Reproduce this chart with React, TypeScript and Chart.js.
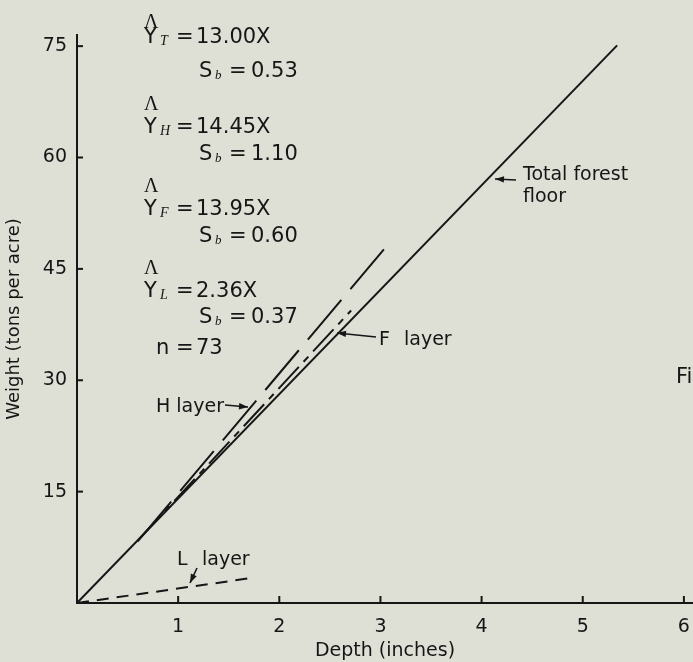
import React, { useEffect, useRef } from 'react';
import { Chart, registerables } from 'chart.js';

Chart.register(...registerables);

const BG = '#dedfd5';
const INK = '#161616';
const SANS = '"DejaVu Sans", sans-serif';
const SERIF = '"Liberation Serif", "DejaVu Serif", serif';

// Regression lines (depth in inches, weight in tons per acre)
const totalDepth = [0, 5.34];
const totalWeight = [0, 75.1];
const hDepth = [0.6, 3.1];
const hWeight = [8.3, 48.7];
const fDepth = [0.62, 2.71];
const fWeight = [8.7, 39.4];
const lDepth = [0, 1.69];
const lWeight = [0, 3.3];

// Axis ticks
const depthTicks = [1, 2, 3, 4, 5, 6];
const weightTicks = [15, 30, 45, 60, 75];

// Equations block
const eqSubs = ['T', 'H', 'F', 'L'];
const eqCoefs = ['13.00X', '14.45X', '13.95X', '2.36X'];
const eqSb = ['0.53', '1.10', '0.60', '0.37'];
const sampleN = '73';

const pts = (xs: number[], ys: number[]) => xs.map((x, i) => ({ x, y: ys[i] }));

function arrow(ctx: CanvasRenderingContext2D, x0: number, y0: number, x1: number, y1: number) {
  ctx.save();
  ctx.strokeStyle = INK;
  ctx.fillStyle = INK;
  ctx.lineWidth = 1.6;
  ctx.beginPath();
  ctx.moveTo(x0, y0);
  ctx.lineTo(x1, y1);
  ctx.stroke();
  const a = Math.atan2(y1 - y0, x1 - x0);
  const L = 9, W = 3.2;
  ctx.beginPath();
  ctx.moveTo(x1, y1);
  ctx.lineTo(x1 - L * Math.cos(a) + W * Math.sin(a), y1 - L * Math.sin(a) - W * Math.cos(a));
  ctx.lineTo(x1 - L * Math.cos(a) - W * Math.sin(a), y1 - L * Math.sin(a) + W * Math.cos(a));
  ctx.closePath();
  ctx.fill();
  ctx.restore();
}

const paperPlugin = {
  id: 'paper',
  beforeDraw(chart: any) {
    const ctx = chart.ctx;
    ctx.save();
    ctx.fillStyle = BG;
    ctx.fillRect(0, 0, chart.width, chart.height);
    ctx.restore();
  },
  afterDraw(chart: any) {
    const ctx: CanvasRenderingContext2D = chart.ctx;
    const xs = chart.scales.x;
    const ys = chart.scales.y;
    const area = chart.chartArea;
    ctx.save();
    // inside tick marks
    ctx.strokeStyle = INK;
    ctx.lineWidth = 2;
    depthTicks.forEach((v) => {
      const px = xs.getPixelForValue(v);
      ctx.beginPath();
      ctx.moveTo(px, area.bottom);
      ctx.lineTo(px, area.bottom - 7);
      ctx.stroke();
    });
    weightTicks.forEach((v) => {
      const py = ys.getPixelForValue(v);
      ctx.beginPath();
      ctx.moveTo(area.left, py);
      ctx.lineTo(area.left + 6, py);
      ctx.stroke();
    });

    // equations
    ctx.fillStyle = INK;
    ctx.textBaseline = 'alphabetic';
    ctx.textAlign = 'left';
    const lamY = [28, 110, 192, 274];
    const yY = [43, 133, 215, 297];
    const sY = [77, 160, 242, 323];
    eqSubs.forEach((sub, i) => {
      ctx.font = `20px ${SERIF}`;
      ctx.fillText('Λ', 144, lamY[i]);
      ctx.font = `21px ${SANS}`;
      ctx.fillText('Y', 144, yY[i]);
      ctx.font = `italic 14px ${SERIF}`;
      ctx.fillText(sub, 160, yY[i] + 2);
      ctx.font = `21px ${SANS}`;
      ctx.fillText('=', 176, yY[i]);
      ctx.fillText(eqCoefs[i], 196, yY[i]);
      ctx.fillText('S', 199, sY[i]);
      ctx.font = `italic 13px ${SERIF}`;
      ctx.fillText('b', 215, sY[i] + 2);
      ctx.font = `21px ${SANS}`;
      ctx.fillText('=', 229, sY[i]);
      ctx.fillText(eqSb[i], 251, sY[i]);
    });
    ctx.font = `21px ${SANS}`;
    ctx.fillText('n', 156, 354);
    ctx.fillText('=', 176, 354);
    ctx.fillText(sampleN, 196, 354);

    // line labels
    ctx.font = `19px ${SANS}`;
    ctx.fillText('Total forest', 523, 180);
    ctx.fillText('floor', 523, 202);
    arrow(ctx, 516, 180, 495, 179);
    ctx.fillText('F', 379, 345);
    ctx.fillText('layer', 404, 345);
    arrow(ctx, 376, 337, 337, 333);
    ctx.fillText('H layer', 156, 412);
    arrow(ctx, 225, 405, 248, 407);
    ctx.fillText('L', 177, 565);
    ctx.fillText('layer', 202, 565);
    arrow(ctx, 197, 568, 190, 583);

    // cropped caption
    ctx.font = `21px ${SANS}`;
    ctx.fillText('Fi', 676, 383);
    ctx.restore();
  },
};

export default function App() {
  const ref = useRef<HTMLCanvasElement | null>(null);
  useEffect(() => {
    document.body.style.margin = '0';
    document.body.style.background = BG;
    const canvas = ref.current;
    if (!canvas) return;
    const lineDs = (label: string, xs: number[], ys: number[], dash: number[]) => ({
      label,
      data: pts(xs, ys),
      showLine: true,
      borderColor: INK,
      borderWidth: 2,
      borderDash: dash,
      pointRadius: 0,
      fill: false,
    });
    const chart = new Chart(canvas, {
      type: 'scatter',
      data: {
        datasets: [
          lineDs('Total forest floor', totalDepth, totalWeight, []),
          lineDs('H layer', hDepth, hWeight, [52, 14]),
          lineDs('F layer', fDepth, fWeight, [30, 7, 7, 7]),
          lineDs('L layer', lDepth, lWeight, [12, 8]),
        ],
      },
      options: {
        animation: false,
        responsive: false,
        layout: { padding: { top: 35, right: 0, left: 0, bottom: 0 } },
        plugins: { legend: { display: false }, tooltip: { enabled: false } },
        scales: {
          x: {
            type: 'linear',
            min: 0,
            max: 6.09,
            afterFit: (s: any) => { s.height = 59; s.paddingLeft = 0; s.paddingRight = 0; },
            afterBuildTicks: (s: any) => { s.ticks = depthTicks.map((v) => ({ value: v })); },
            grid: { display: false, drawTicks: false },
            border: { display: true, color: INK, width: 2 },
            ticks: {
              color: INK,
              font: { family: SANS, size: 19 },
              padding: 13,
              maxRotation: 0,
              callback: (v: any) => String(v),
            },
            title: {
              display: true,
              text: 'Depth (inches)',
              color: INK,
              font: { family: SANS, size: 19 },
              padding: { top: 0, bottom: 0 },
            },
          },
          y: {
            type: 'linear',
            min: 0,
            max: 76.5,
            afterFit: (s: any) => { s.width = 77; s.paddingTop = 0; s.paddingBottom = 0; },
            afterBuildTicks: (s: any) => { s.ticks = weightTicks.map((v) => ({ value: v })); },
            grid: { display: false, drawTicks: false },
            border: { display: true, color: INK, width: 2 },
            ticks: {
              color: INK,
              font: { family: SANS, size: 19 },
              padding: 10,
              callback: (v: any) => String(v),
            },
            title: {
              display: true,
              text: 'Weight (tons per acre)',
              color: INK,
              font: { family: SANS, size: 18 },
              padding: { top: 4, bottom: 4 },
            },
          },
        },
      },
      plugins: [paperPlugin],
    });
    return () => chart.destroy();
  }, []);
  return (
    <div style={{ position: 'absolute', left: 0, top: 0, width: 693, height: 662, background: BG }}>
      <canvas ref={ref} width={693} height={662} style={{ display: 'block' }} />
    </div>
  );
}
